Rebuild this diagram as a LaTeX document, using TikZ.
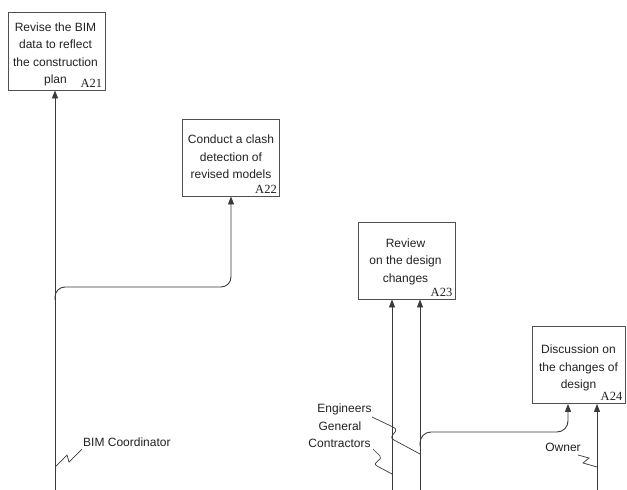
\documentclass[tikz,border=0pt]{standalone}
\usepackage{fontspec}
\setmainfont{Liberation Sans}
\newfontfamily\idfont{Liberation Serif}
\usetikzlibrary{arrows.meta,calc}
\definecolor{linec}{HTML}{3A3A3A}
\definecolor{boxc}{HTML}{505050}
\definecolor{txt}{HTML}{222222}
\begin{document}
\begin{tikzpicture}[x=1pt,y=-1pt,
 box/.style={draw=boxc, line width=0.9pt, minimum width=97pt, minimum height=77pt, inner sep=0pt},
 btext/.style={align=center, font=\fontsize{12}{17.5}\selectfont, text=txt, inner sep=0pt},
 idl/.style={font=\idfont\fontsize{12.5}{12.5}\selectfont, anchor=south east, inner xsep=3pt, inner ysep=3pt, text=txt},
 arr/.style={draw=linec, line width=0.9pt, -{Triangle[width=6pt,length=8pt]}},
 lbl/.style={font=\fontsize{12}{16}\selectfont, text=txt, inner sep=0pt},
 squig/.style={draw=linec, line width=0.7pt}]
\useasboundingbox[fill=white] (0,0) rectangle (627,490);

% boxes
\node[box, minimum height=78pt] (A21) at (56.5,51) {};
\node[btext] (t21) at ($(A21.center)+(-1,3.5)$) {Revise the BIM\\data to reflect\\the construction\\plan};
\node[idl] at (A21.south east) {A21};

\node[box] (A22) at (231,157.5) {};
\node[btext] (t22) at ($(A22.center)+(0,-0.5)$) {Conduct a clash\\detection of\\revised models};
\node[idl] at (A22.south east) {A22};

\node[box] (A23) at (406.5,260.5) {};
\node[btext] (t23) at ($(A23.center)+(-1,1)$) {Review\\on the design\\changes};
\node[idl] at (A23.south east) {A23};

\node[box, minimum width=93pt] (A24) at (578.5,365) {};
\node[btext] (t24) at ($(A24.center)+(0,3)$) {Discussion on\\the changes of\\design};
\node[idl] at (A24.south east) {A24};

% free ends at bottom
\coordinate (in1) at (55,490);
\coordinate (in2) at (392,490);
\coordinate (in3) at (420,490);
\coordinate (in4) at (597,490);
\coordinate (br1) at (55,300);
\coordinate (br2) at (420,446);

% connectors
\draw[arr] (in1) -- (A21.south -| in1);
\draw[arr, rounded corners=10pt] (br1) -- (55,287) -- (231,287) -- (A22.south -| 231,0);
\draw[arr] (in2) -- (A23.south -| in2);
\draw[arr] (in3) -- (A23.south -| in3);
\draw[arr, rounded corners=11pt] (br2) -- (420,432) -- (568,432) -- (A24.south -| 568,0);
\draw[arr] (in4) -- (A24.south -| in4);

% labels
\node[lbl, anchor=west] (bim) at (83,442) {BIM Coordinator};
\node[lbl] (eng) at (344.5,409) {Engineers};
\node[lbl] (gen) at (340,426) {General};
\node[lbl] (con) at (339.5,443) {Contractors};
\node[lbl] (own) at (563,447) {Owner};

% squiggles
\draw[squig] (56,466) -- (67,455) -- (69,462) -- (82,449);
\draw[squig] (372,417) -- (393,427) .. controls (402,431) and (386,436) .. (394,440) -- (420,454);
\draw[squig] (373,449) -- (380,456) .. controls (384,460) and (371,462) .. (377,466) -- (392,474);
\draw[squig] (578,455) -- (589,458) -- (583,463) -- (597,467);
\end{tikzpicture}
\end{document}
